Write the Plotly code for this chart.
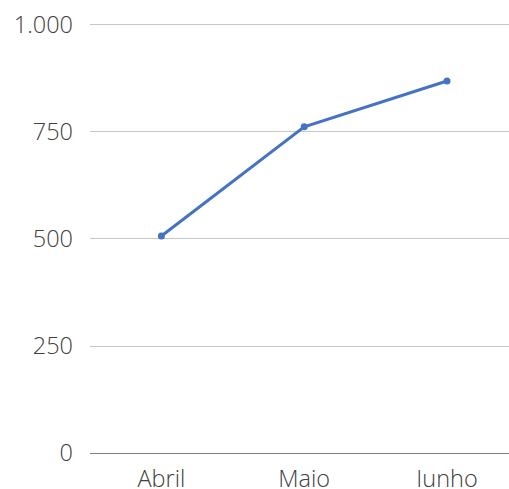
import plotly.graph_objects as go

months = ["Abril", "Maio", "Iunho"]
values = [507, 762, 869]
y_ticks = [0, 250, 500, 750, 1000]

fig = go.Figure()
fig.add_trace(go.Scatter(
    x=months, y=values, mode="lines+markers",
    line=dict(color="#4472C4", width=3),
    marker=dict(color="#4472C4", size=7),
    cliponaxis=False,
))

font = dict(family="Open Sans", size=23.5, color="#404040", weight=300)

fig.update_layout(
    width=509, height=489,
    margin=dict(l=90, r=0, t=21, b=36),
    paper_bgcolor="white", plot_bgcolor="white",
    separators=",.",
    showlegend=False,
    font=font,
)
fig.update_xaxes(
    type="category", range=[-0.5, 2.434], automargin=False,
    showgrid=False, showline=True, linecolor="#7f7f7f", linewidth=1,
    ticks="", tickfont=font, ticklabelstandoff=5, zeroline=False,
)
fig.update_yaxes(
    range=[0, 1009.3], tickvals=y_ticks, tickformat=",d", automargin=False,
    showgrid=True, gridcolor="#c6c6c6", gridwidth=1,
    zeroline=False, showline=False, ticks="",
    tickfont=font, ticklabelstandoff=16,
)

fig.write_html(
    "out.html",
    config={"displayModeBar": False},
    post_script="document.body.style.margin='0';document.body.style.overflow='hidden';",
)
